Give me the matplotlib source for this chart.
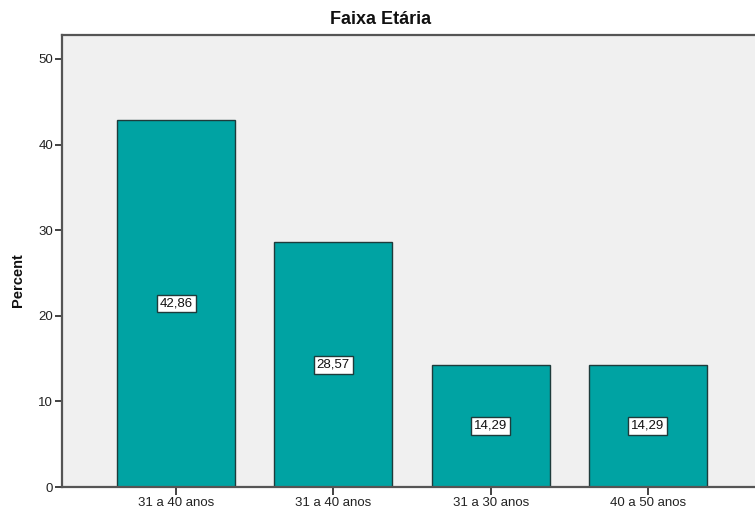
import matplotlib
matplotlib.use("Agg")
import matplotlib.pyplot as plt

plt.rcParams["font.family"] = ["Liberation Sans", "DejaVu Sans"]

categories = ["31 a 40 anos", "31 a 40 anos", "31 a 30 anos", "40 a 50 anos"]
percent = [42.86, 28.57, 14.29, 14.29]
yticks = [0, 10, 20, 30, 40, 50]

BAR = "#00A3A3"
BG = "#F0F0F0"
SPINE = "#555555"

fig = plt.figure(figsize=(7.55, 5.09), dpi=100)
fig.patch.set_facecolor("white")
# axes runs off the right edge, like the exported chart
ax = fig.add_axes([62 / 755, 22 / 509, 700 / 755, 452 / 509])
ax.set_facecolor(BG)

x = range(len(categories))
bars = ax.bar(x, percent, width=0.75, color=BAR, edgecolor="#1e3b3b", linewidth=1.0, zorder=2)

for rect, v in zip(bars, percent):
    ax.text(rect.get_x() + rect.get_width() / 2, v / 2, f"{v:.2f}".replace(".", ","),
            ha="center", va="center", fontsize=9.5, color="#111111", zorder=3,
            bbox=dict(boxstyle="square,pad=0.22", facecolor="white", edgecolor="#1e3b3b", linewidth=1.0))

ax.set_xlim(-0.725, 3.725)
ax.set_ylim(0, 52.8)
ax.set_xticks(list(x))
ax.set_xticklabels(categories)
ax.set_yticks(yticks)
ax.tick_params(axis="both", labelsize=9.5, colors="#222222", direction="out", width=1.2, length=5, pad=1.5)
ax.tick_params(axis="x", length=6)

for side in ("left", "bottom", "top"):
    ax.spines[side].set_color(SPINE)
    ax.spines[side].set_linewidth(1.6)
ax.spines["right"].set_visible(False)

fig.text(381 / 755, 1 - 20 / 509, "Faixa Etária", ha="center", va="center",
         fontsize=13, fontweight="bold", color="#111111")
fig.text(18 / 755, 1 - 280 / 509, "Percent", ha="center", va="center", rotation=90,
         fontsize=10.5, fontweight="bold", color="#111111")

fig.savefig("out.png", dpi=100)
